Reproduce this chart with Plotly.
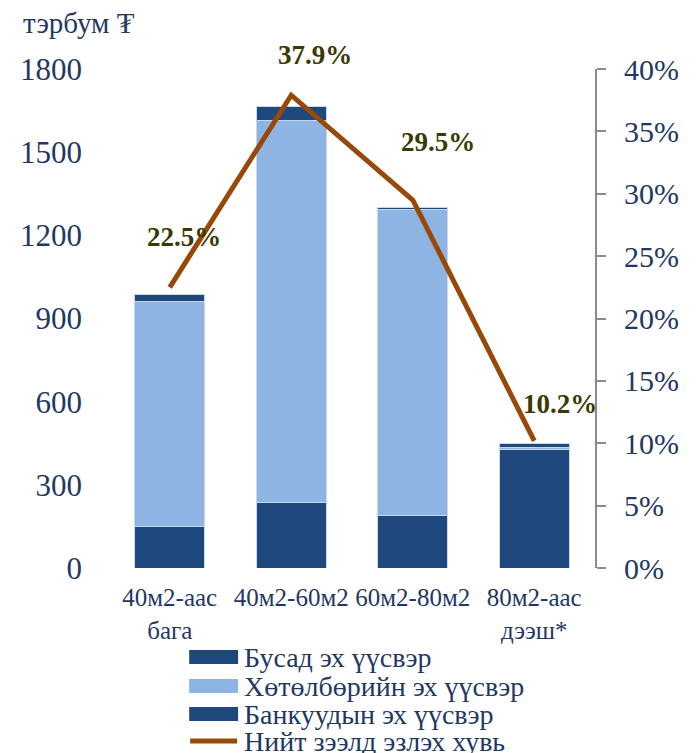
import plotly.graph_objects as go

categories = ["40м2-аас<br>бага", "40м2-60м2", "60м2-80м2", "80м2-аас<br>дээш*"]
bank = [150, 235, 188, 429]
program = [813, 1380, 1106, 6]
other = [25, 50, 5, 14]
share = [0.225, 0.379, 0.295, 0.102]
share_labels = ["22.5%", "37.9%", "29.5%", "10.2%"]
legend_names = ["Бусад эх үүсвэр", "Хөтөлбөрийн эх үүсвэр", "Банкуудын эх үүсвэр", "Нийт зээлд эзлэх хувь"]
left_ticks = [0, 300, 600, 900, 1200, 1500, 1800]
right_ticks = [0, 0.05, 0.10, 0.15, 0.20, 0.25, 0.30, 0.35, 0.40]

# label offsets (pixels) as in the reference
label_dx = [14, 24, 25, 26]
label_dy = [50, 40, 58, 37]

DARK = "#1F497D"
LIGHT = "#8EB4E3"
BROWN = "#984807"
TXT = "#1F3864"
FONT = "Liberation Serif, DejaVu Serif, serif"
EDGE = dict(color="#C6D9F1", width=1)

fig = go.Figure()
fig.add_trace(go.Bar(x=categories, y=bank, name=legend_names[2], marker=dict(color=DARK, line=EDGE), width=0.58, showlegend=False))
fig.add_trace(go.Bar(x=categories, y=program, name=legend_names[1], marker=dict(color=LIGHT, line=EDGE), width=0.58, showlegend=False))
fig.add_trace(go.Bar(x=categories, y=other, name=legend_names[0], marker=dict(color=DARK, line=EDGE), width=0.58, showlegend=False))
fig.add_trace(go.Scatter(x=categories, y=share, yaxis="y2", mode="lines", name=legend_names[3],
                         line=dict(color=BROWN, width=5), showlegend=False))

for c, s, lab, dx, dy in zip(categories, share, share_labels, label_dx, label_dy):
    fig.add_annotation(x=c, y=s, xref="x", yref="y2", text="<b>%s</b>" % lab, showarrow=False,
                       xshift=dx, yshift=dy, font=dict(family=FONT, size=27, color="#3A3A05"))

# manual legend (pixel helpers relative to plot area)
leg_y = [657, 686, 714, 741]
T = 69
B = 568
def py(p):
    return (B - p) / (B - T)
def px(p):
    return (p - 103) / 497
for i, name in enumerate(legend_names):
    yc = py(leg_y[i])
    if i < 3:
        col = DARK if i != 1 else LIGHT
        fig.add_shape(type="rect", xref="paper", yref="paper", x0=px(185), x1=px(235),
                      y0=py(leg_y[i] + 7), y1=py(leg_y[i] - 7), fillcolor=col, line=dict(width=0))
    else:
        fig.add_shape(type="line", xref="paper", yref="paper", x0=px(186), x1=px(234), y0=yc, y1=yc,
                      line=dict(color=BROWN, width=5))
    fig.add_annotation(xref="paper", yref="paper", x=px(239), y=yc, xanchor="left", yanchor="middle",
                       text=name, showarrow=False, font=dict(family=FONT, size=28, color=TXT))

fig.add_annotation(xref="paper", yref="paper", x=px(13), y=py(23), xanchor="left", yanchor="middle",
                   text="тэрбум ₮", showarrow=False, font=dict(family=FONT, size=29, color=TXT))

fig.update_layout(
    width=683, height=745,
    margin=dict(l=95, r=91, t=61, b=185),
    barmode="stack", bargap=0.42,
    plot_bgcolor="white", paper_bgcolor="white",
    showlegend=False,
    font=dict(family=FONT, color=TXT),
    xaxis=dict(range=[-0.5, 3.5], showline=False, ticks="", tickfont=dict(size=25, color=TXT),
               ticklabelstandoff=12),
    yaxis=dict(range=[0, 1800], tickvals=left_ticks, showgrid=False, showline=False, zeroline=False,
               ticks="", tickfont=dict(size=31, color=TXT), ticklabelstandoff=26),
    yaxis2=dict(range=[0, 0.4], tickvals=right_ticks, tickformat=".0%", overlaying="y", side="right",
                showgrid=False, zeroline=False, showline=True, linecolor="#8C8C8C", linewidth=2,
                ticks="outside", ticklen=9, tickwidth=2, tickcolor="#8C8C8C",
                tickfont=dict(size=30, color=TXT), ticklabelstandoff=12),
)
fig.write_html("out.html")
